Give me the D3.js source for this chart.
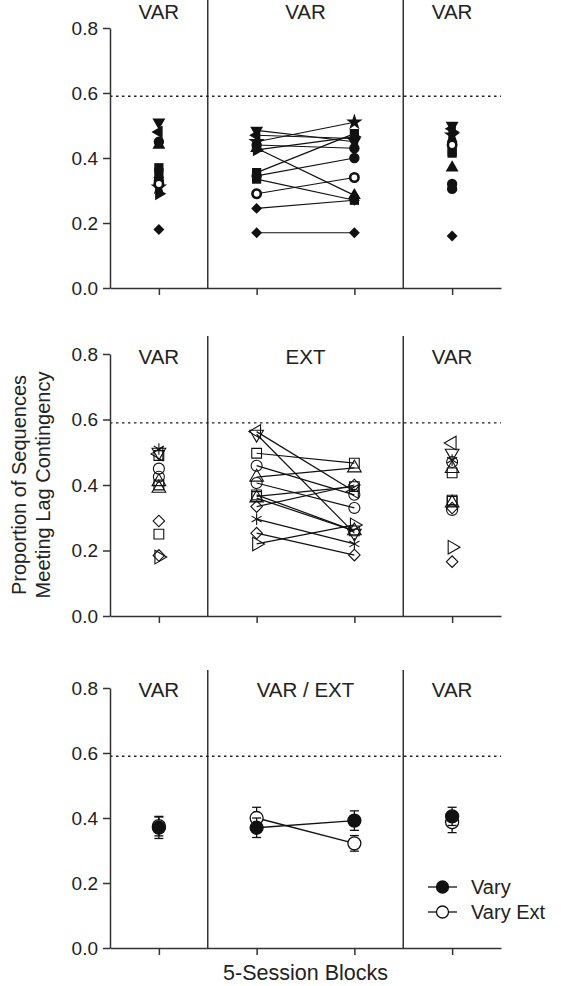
<!DOCTYPE html>
<html><head><meta charset="utf-8">
<script src="https://cdn.jsdelivr.net/npm/d3@7"></script>
<style>
html,body{margin:0;padding:0;background:#fff;}
svg{display:block;font-family:"Liberation Sans",Arial,Helvetica,sans-serif;}
</style></head>
<body><svg id="chart" width="561" height="986"></svg>
<script>
// ---------- DATA ----------
const blocks = [1, 2, 3, 4];
const yTicks = [0, 0.2, 0.4, 0.6, 0.8];
const criterion = 0.59;
const topHeaders = ["VAR", "VAR", "VAR"];
const midHeaders = ["VAR", "EXT", "VAR"];
const botHeaders = ["VAR", "VAR / EXT", "VAR"];

// Top panel: individual subjects (filled symbols), values at blocks 1..4
const topSymbols = ["triDown","triLeft","circle","square","square","circle","star","triRight","diamond","diamond","ring","triangle"];
const topValues = [
  [0.51, 0.485, 0.45, 0.50],
  [0.48, 0.47, 0.46, 0.49],
  [0.45, 0.44, 0.43, 0.32],
  [0.37, 0.355, 0.475, 0.42],
  [0.355, 0.335, 0.27, 0.415],
  [0.33, 0.345, 0.40, 0.305],
  [0.31, 0.45, 0.51, 0.47],
  [0.29, 0.425, 0.465, 0.48],
  [0.18, 0.17, 0.17, 0.16],
  [0.34, 0.245, 0.27, 0.45],
  [0.32, 0.29, 0.34, 0.44],
  [0.44, 0.43, 0.285, 0.37]
];

// Middle panel: individual subjects (open symbols)
const midSymbols = ["triLeft","triDown","square","circle","triangle","circle","square","triangle","diamond","asterisk","diamond","triRight","square"];
const midValues = [
  [0.495, 0.563, 0.38, 0.528],
  [0.50, 0.555, 0.253, 0.497],
  [0.49, 0.497, 0.467, 0.437],
  [0.45, 0.459, 0.37, 0.47],
  [0.41, 0.424, 0.452, 0.45],
  [0.425, 0.406, 0.33, 0.324],
  [0.40, 0.365, 0.395, 0.354],
  [0.39, 0.36, 0.26, 0.345],
  [0.29, 0.334, 0.40, 0.33],
  [0.51, 0.296, 0.22, 0.476],
  [0.185, 0.253, 0.186, 0.166],
  [0.18, 0.22, 0.278, 0.21],
  [0.25, 0.37, 0.26, 0.35]
];

// Bottom panel: group means with error bars
const groupNames = ["Vary", "Vary Ext"];
const varyMean = [0.37, 0.37, 0.392, 0.405];
const varyErr = [0.033, 0.03, 0.03, 0.028];
const varyExtMean = [0.375, 0.40, 0.322, 0.387];
const varyExtErr = [0.03, 0.033, 0.024, 0.032];

// ---------- DRAW ----------
const svg = d3.select("#chart");
const x = d3.scaleLinear().domain([0.5, 4.5]).range([110, 501]);
const axisColor = "#333";
const panels = [
  {top: 28, bottom: 288, divTop: 0, headY: 19, headers: topHeaders},
  {top: 354, bottom: 616, divTop: 336, headY: 364, headers: midHeaders},
  {top: 688, bottom: 948, divTop: 670, headY: 697, headers: botHeaders}
];

const asteriskType = {
  draw(ctx, size) {
    const r = Math.sqrt(size) * 0.6;
    for (let i = 0; i < 3; i++) {
      const a = Math.PI / 2 + i * Math.PI / 3;
      ctx.moveTo(r * Math.cos(a), r * Math.sin(a));
      ctx.lineTo(-r * Math.cos(a), -r * Math.sin(a));
    }
  }
};
function symPath(kind, size) {
  const g = d3.symbol().size(size);
  switch (kind) {
    case "circle": case "ring": return g.type(d3.symbolCircle)();
    case "square": return g.type(d3.symbolSquare)();
    case "diamond": return d3.symbol().size(size * 0.7).type(d3.symbolSquare)();
    case "star": return g.type(d3.symbolStar)();
    case "asterisk": return g.type(asteriskType)();
    default: return d3.symbol().size(size * 0.85).type(d3.symbolTriangle)();
  }
}
function symRot(kind) {
  return {triDown: 180, triLeft: -90, triRight: 90, diamond: 45}[kind] || 0;
}

panels.forEach((p, pi) => {
  const y = d3.scaleLinear().domain([0, 0.8]).range([p.bottom, p.top]);
  p.y = y;
  const g = svg.append("g");

  [1.5, 3.5].forEach(d => {
    g.append("line").attr("x1", x(d)).attr("x2", x(d))
      .attr("y1", p.divTop).attr("y2", p.bottom)
      .attr("stroke", axisColor).attr("stroke-width", 1.5);
  });
  g.append("line").attr("x1", x(0.5)).attr("x2", x(4.5))
    .attr("y1", y(criterion)).attr("y2", y(criterion))
    .attr("stroke", "#222").attr("stroke-width", 1.3).attr("stroke-dasharray", "2.5,3.5");

  const ya = g.append("g").attr("transform", `translate(${x(0.5)},0)`)
    .call(d3.axisLeft(y).tickValues(yTicks).tickFormat(d3.format(".1f")).tickSize(7).tickSizeOuter(0).tickPadding(5));
  const xa = g.append("g").attr("transform", `translate(0,${p.bottom})`)
    .call(d3.axisBottom(x).tickValues(blocks).tickFormat("").tickSize(7).tickSizeOuter(0));
  [ya, xa].forEach(a => {
    a.selectAll("path,line").attr("stroke", axisColor).attr("stroke-width", 1.5);
    a.selectAll("text").attr("fill", "#222").style("font-size", "19px").style("font-family", "Liberation Sans, Arial, sans-serif");
  });

  const centers = [1, 2.5, 4];
  p.headers.forEach((h, i) => {
    g.append("text").attr("x", x(centers[i])).attr("y", p.headY)
      .attr("text-anchor", "middle").attr("fill", "#222").style("font-size", "20.5px").text(h);
  });
});

function drawSubjects(p, syms, vals, open) {
  const y = p.y;
  const g = svg.append("g");
  vals.forEach(v => {
    g.append("line").attr("x1", x(blocks[1])).attr("y1", y(v[1]))
      .attr("x2", x(blocks[2])).attr("y2", y(v[2]))
      .attr("stroke", "#111").attr("stroke-width", 1.2);
  });
  vals.forEach((v, si) => {
    const kind = syms[si];
    blocks.forEach((b, bi) => {
      const path = g.append("path")
        .attr("d", symPath(kind, open ? 95 : 85))
        .attr("transform", `translate(${x(b)},${y(v[bi])}) rotate(${symRot(kind)})`);
      if (open) {
        path.attr("fill", "none").attr("stroke", "#111").attr("stroke-width", 1.1);
      } else if (kind === "ring") {
        path.attr("d", symPath(kind, 55)).attr("fill", "#fff").attr("stroke", "#111").attr("stroke-width", 2.6);
      } else {
        path.attr("fill", "#111");
      }
    });
  });
}
drawSubjects(panels[0], topSymbols, topValues, false);
drawSubjects(panels[1], midSymbols, midValues, true);

(function () {
  const p = panels[2], y = p.y;
  const g = svg.append("g");
  const groups = [
    {m: varyExtMean, e: varyExtErr, fill: "#fff"},
    {m: varyMean, e: varyErr, fill: "#111"}
  ];
  groups.forEach(gr => {
    g.append("line").attr("x1", x(blocks[1])).attr("y1", y(gr.m[1]))
      .attr("x2", x(blocks[2])).attr("y2", y(gr.m[2]))
      .attr("stroke", "#111").attr("stroke-width", 1.3);
  });
  groups.forEach(gr => {
    blocks.forEach((b, i) => {
      const cx = x(b), lo = y(gr.m[i] - gr.e[i]), hi = y(gr.m[i] + gr.e[i]);
      g.append("line").attr("x1", cx).attr("x2", cx).attr("y1", lo).attr("y2", hi).attr("stroke", "#111").attr("stroke-width", 1.3);
      [lo, hi].forEach(yy => g.append("line").attr("x1", cx - 4.5).attr("x2", cx + 4.5).attr("y1", yy).attr("y2", yy).attr("stroke", "#111").attr("stroke-width", 1.3));
      g.append("circle").attr("cx", cx).attr("cy", y(gr.m[i])).attr("r", 6.5)
        .attr("fill", gr.fill).attr("stroke", "#111").attr("stroke-width", 1.3);
    });
  });
  const lg = svg.append("g");
  const legendFills = ["#111", "#fff"];
  groupNames.forEach((n, i) => {
    const ly = 887 + i * 25;
    lg.append("line").attr("x1", 428).attr("x2", 457).attr("y1", ly).attr("y2", ly).attr("stroke", "#111").attr("stroke-width", 1.3);
    lg.append("circle").attr("cx", 442.5).attr("cy", ly).attr("r", 6).attr("fill", legendFills[i]).attr("stroke", "#111").attr("stroke-width", 1.3);
    lg.append("text").attr("x", 471).attr("y", ly + 7).attr("fill", "#222").style("font-size", "20px").text(n);
  });
})();

svg.append("text").attr("x", x(2.5)).attr("y", 980).attr("text-anchor", "middle")
  .attr("fill", "#222").style("font-size", "21.5px").text("5-Session Blocks");
const yt = svg.append("text").attr("transform", "translate(0,485) rotate(-90)")
  .attr("text-anchor", "middle").attr("fill", "#222").style("font-size", "20px");
yt.append("tspan").attr("x", 0).attr("y", 26).text("Proportion of Sequences");
yt.append("tspan").attr("x", 0).attr("y", 50).text("Meeting Lag Contingency");
</script></body></html>
